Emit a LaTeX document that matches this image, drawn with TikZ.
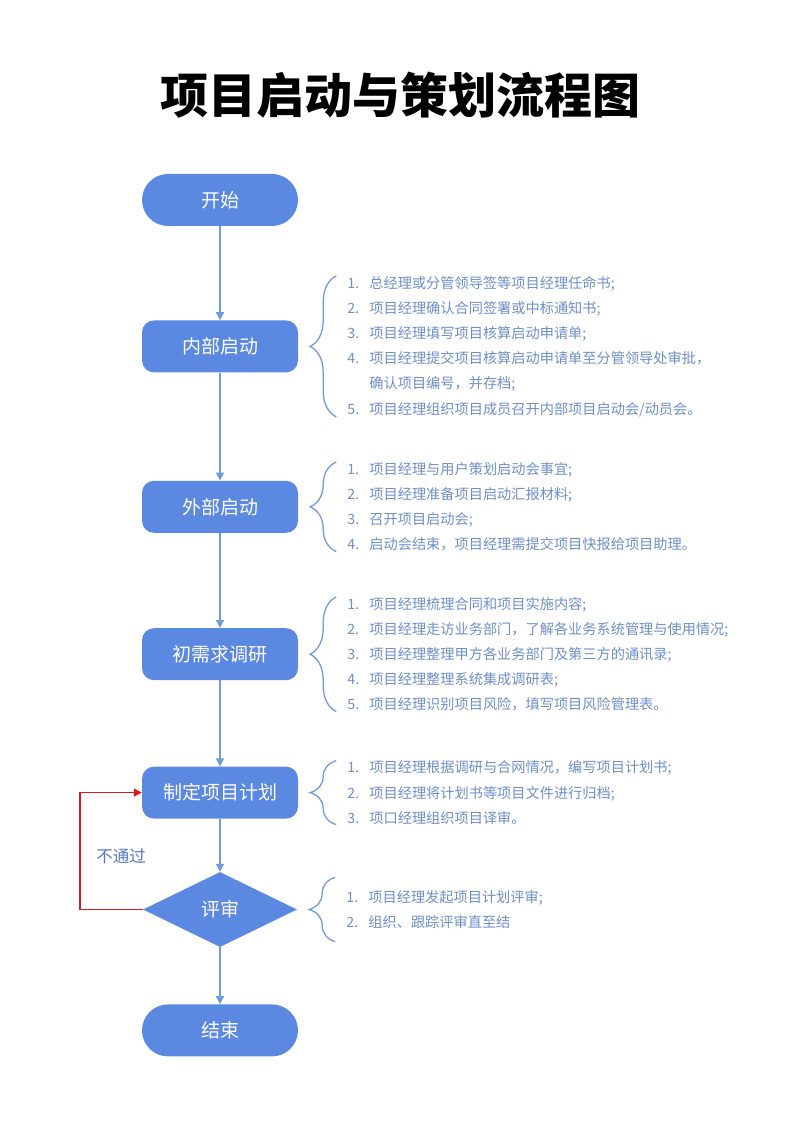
\documentclass[tikz,border=0pt]{standalone}
\usepackage{fontspec}
\setmainfont{Noto Sans CJK SC}
\usepackage{xcolor}
\definecolor{boxblue}{HTML}{5B88E0}
\definecolor{lineblue}{HTML}{729ADF}
\definecolor{noteblue}{HTML}{6E8ECC}
\definecolor{labelblue}{HTML}{5479C4}
\definecolor{loopred}{HTML}{E0161C}
\usetikzlibrary{shapes.geometric, arrows.meta, positioning, decorations.pathreplacing}

\newcommand{\itm}[1]{\makebox[22pt][l]{#1}}

\begin{document}
\begin{tikzpicture}[x=1pt, y=-1pt,
  term/.style={rectangle, rounded corners=26pt, fill=boxblue, text=white,
               minimum width=156pt, minimum height=52pt,
               font=\fontsize{19}{22}\selectfont},
  stepbox/.style={rectangle, rounded corners=12pt, fill=boxblue, text=white,
                  minimum width=156pt, minimum height=52pt,
                  font=\fontsize{19}{22}\selectfont},
  judge/.style={diamond, fill=boxblue, text=white, inner sep=0pt,
                minimum width=154pt, minimum height=75pt,
                font=\fontsize{19}{22}\selectfont},
  note/.style={text=noteblue, align=left, inner sep=0pt, anchor=west,
               font=\fontsize{14.2}{25.2}\selectfont},
  arrow/.style={-{Triangle[length=8pt, width=8pt]}, draw=lineblue, line width=1.4pt},
  backarrow/.style={-{Triangle[length=8pt, width=8pt]}, draw=loopred, line width=1.4pt},
  brace/.style={decorate, decoration={brace, amplitude=26pt}, draw=lineblue,
                line width=1.3pt},
]
\useasboundingbox (0,0) rectangle (800,1131);

\node[font=\fontsize{48}{56}\selectfont\bfseries] (title) at (400,95) {项目启动与策划流程图};

\node[term] (start) at (220,200) {开始};
\node[stepbox, below=94pt of start]  (inner)  {内部启动};
\node[stepbox, below=108pt of inner] (outer)  {外部启动};
\node[stepbox, below=95pt of outer]  (survey) {初需求调研};
\node[stepbox, below=86pt of survey] (plan)   {制定项目计划};
\node[judge, below=53pt of plan]     (rev)    {评审};
\node[term, below=57pt of rev]       (stop)   {结束};

% notes beside each step
\node[note, right=49pt of inner] (n1) {\itm{1.}总经理或分管领导签等项目经理任命书;\\
  \itm{2.}项目经理确认合同签署或中标通知书;\\
  \itm{3.}项目经理填写项目核算启动申请单;\\
  \itm{4.}项目经理提交项目核算启动申请单至分管领导处审批，\\
  \itm{}确认项目编号，并存档;\\
  \itm{5.}项目经理组织项目成员召开内部项目启动会/动员会。};
\node[note, right=49pt of outer] (n2) {\itm{1.}项目经理与用户策划启动会事宜;\\
  \itm{2.}项目经理准备项目启动汇报材料;\\
  \itm{3.}召开项目启动会;\\
  \itm{4.}启动会结束，项目经理需提交项目快报给项目助理。};
\node[note, right=49pt of survey] (n3) {\itm{1.}项目经理梳理合同和项目实施内容;\\
  \itm{2.}项目经理走访业务部门，了解各业务系统管理与使用情况;\\
  \itm{3.}项目经理整理甲方各业务部门及第三方的通讯录;\\
  \itm{4.}项目经理整理系统集成调研表;\\
  \itm{5.}项目经理识别项目风险，填写项目风险管理表。};
\node[note, right=49pt of plan] (n4) {\itm{1.}项目经理根据调研与合网情况，编写项目计划书;\\
  \itm{2.}项目经理将计划书等项目文件进行归档;\\
  \itm{3.}项口经理组织项目译审。};
\node[note, right=49pt of rev, minimum height=64pt] (n5) {\itm{1.}项目经理发起项目计划评审;\\
  \itm{2.}组织、跟踪评审直至结};

\foreach \n in {n1,n2,n3,n4,n5}
  \draw[brace] ([xshift=-11pt]\n.south west) -- ([xshift=-11pt]\n.north west);

\draw[arrow] (start)  -- (inner);
\draw[arrow] (inner)  -- (outer);
\draw[arrow] (outer)  -- (survey);
\draw[arrow] (survey) -- (plan);
\draw[arrow] (plan)   -- (rev);
\draw[arrow] (rev)    -- (stop);

\coordinate (back) at ([xshift=-63pt]rev.west);
\draw[backarrow] (rev.west) -- (back) |- (plan.west);
\node[text=labelblue, font=\fontsize{16.5}{18}\selectfont] (nopass) at (121,856) {不通过};

\end{tikzpicture}
\end{document}
